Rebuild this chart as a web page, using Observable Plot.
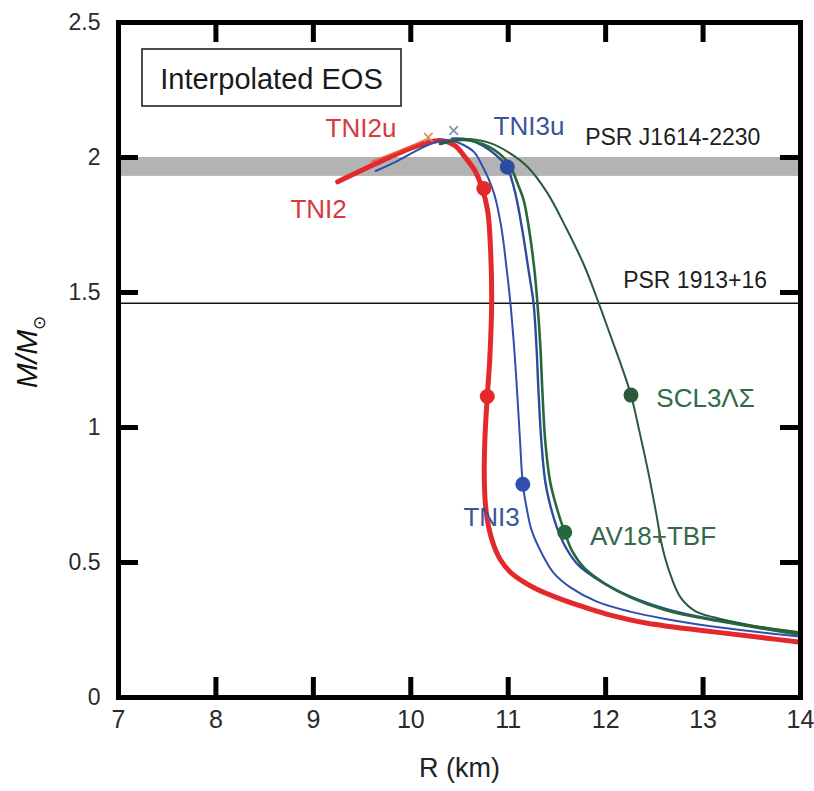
<!DOCTYPE html>
<html>
<head>
<meta charset="utf-8">
<script src="https://cdn.jsdelivr.net/npm/d3@7"></script>
<script src="https://cdn.jsdelivr.net/npm/@observablehq/plot@0.6"></script>
<style>
  html, body { margin: 0; padding: 0; background: #fff; }
  #chart { width: 814px; height: 791px; }
</style>
</head>
<body>
<div id="chart"></div>
<script>
// Neutron-star mass–radius relations, [R (km), M/Msun], each traced from the high-mass end.
const tni2 = [
  [9.25, 1.91], [9.6, 1.97], [9.9, 2.02], [10.1, 2.047], [10.3, 2.063], [10.45, 2.045],
  [10.56, 2.0], [10.66, 1.95], [10.73, 1.89], [10.79, 1.80], [10.82, 1.65], [10.83, 1.46],
  [10.81, 1.25], [10.785, 1.115], [10.76, 0.95], [10.755, 0.80], [10.77, 0.70], [10.80, 0.63],
  [10.85, 0.565], [10.92, 0.51], [11.02, 0.465], [11.15, 0.43], [11.3, 0.40], [11.5, 0.37],
  [11.75, 0.338], [12.0, 0.31], [12.43, 0.275], [13.11, 0.243], [13.6, 0.222], [14.0, 0.205]
];
const tni2u = [[9.6, 1.985], [9.85, 2.02], [10.05, 2.05], [10.18, 2.07]];
const tni3 = [
  [9.64, 1.95], [9.85, 1.985], [10.03, 2.02], [10.2, 2.05], [10.38, 2.065], [10.52, 2.05],
  [10.65, 2.02], [10.74, 1.965], [10.8, 1.92], [10.86, 1.86], [10.93, 1.74], [10.98, 1.6],
  [11.02, 1.47], [11.06, 1.3], [11.09, 1.14], [11.12, 0.96], [11.15, 0.79], [11.19, 0.70],
  [11.24, 0.62], [11.35, 0.53], [11.47, 0.46], [11.65, 0.405], [11.91, 0.355], [12.25, 0.318],
  [12.6, 0.292], [13.2, 0.258], [14.0, 0.225]
];
const tni3u = [
  [10.42, 2.07], [10.6, 2.065], [10.8, 2.03], [10.93, 1.99], [10.99, 1.965], [11.05, 1.90],
  [11.09, 1.84], [11.15, 1.72], [11.21, 1.58], [11.26, 1.46], [11.29, 1.30], [11.31, 1.14],
  [11.34, 0.95], [11.38, 0.80], [11.44, 0.70], [11.51, 0.62], [11.6, 0.55], [11.72, 0.49],
  [11.95, 0.43], [12.25, 0.375], [12.6, 0.33], [12.94, 0.30], [13.5, 0.265], [14.0, 0.235]
];
const av18tbf = [
  [10.3, 2.05], [10.55, 2.065], [10.8, 2.04], [11.0, 1.98], [11.1, 1.90], [11.16, 1.84],
  [11.22, 1.72], [11.27, 1.58], [11.30, 1.46], [11.33, 1.30], [11.35, 1.14], [11.38, 0.95],
  [11.43, 0.80], [11.5, 0.70], [11.58, 0.612], [11.66, 0.54], [11.78, 0.48], [12.0, 0.42],
  [12.26, 0.37], [12.6, 0.325], [12.94, 0.297], [13.5, 0.262], [14.0, 0.232]
];
const scl3LS = [
  [10.3, 2.05], [10.55, 2.068], [10.8, 2.055], [11.0, 2.02], [11.2, 1.965], [11.4, 1.87],
  [11.6, 1.735], [11.78, 1.6], [11.93, 1.46], [12.05, 1.34], [12.17, 1.22], [12.26, 1.12],
  [12.35, 0.98], [12.44, 0.83], [12.52, 0.68], [12.58, 0.56], [12.66, 0.46], [12.77, 0.37],
  [12.92, 0.32], [13.11, 0.297], [13.5, 0.267], [14.0, 0.242]
];

// Filled circles marking selected stars on the curves.
const dotR = [10.75, 10.785, 10.99, 11.15, 11.58, 12.26];
const dotM = [1.885, 1.115, 1.965, 0.79, 0.612, 1.12];
const dotSeries = ["TNI2", "TNI2", "TNI3u", "TNI3", "AV18+TBF", "SCL3ΛΣ"];

// Crosses at the maximum-mass ends of the universal-repulsion curves.
const crossR = [10.18, 10.44];
const crossM = [2.075, 2.10];
const crossSeries = ["TNI2u", "TNI3u"];

// Curve names and where they sit.
const labelText = ["TNI2u", "TNI2", "TNI3u", "TNI3", "AV18+TBF", "SCL3ΛΣ"];
const labelR = [9.125, 8.765, 10.85, 10.54, 11.84, 12.52];
const labelM = [2.107, 1.807, 2.115, 0.667, 0.596, 1.107];

// Observed pulsar masses.
const psrJ1614Band = [1.93, 2.0];
const psrJ1614Label = {text: "PSR J1614-2230", R: 11.79, M: 2.072};
const psr1913Mass = 1.46;
const psr1913Label = {text: "PSR 1913+16", R: 12.18, M: 1.544};

const xDomain = [7, 14];
const yDomain = [0, 2.5];
const xTicks = [7, 8, 9, 10, 11, 12, 13, 14];
const yTicks = [0, 0.5, 1, 1.5, 2, 2.5];

const lineColor = {
  "TNI2": "#e4292d", "TNI2u": "#e8603e", "TNI3": "#2f4fae", "TNI3u": "#2c4b9c",
  "AV18+TBF": "#24683d", "SCL3ΛΣ": "#2b5a3a"
};
const textColor = {
  "TNI2": "#d63a40", "TNI2u": "#d63a40", "TNI3": "#3b5598", "TNI3u": "#3b5598",
  "AV18+TBF": "#33694a", "SCL3ΛΣ": "#2f6a48"
};

const W = 814, H = 791;
const mLeft = 118, mRight = 14, mTop = 22, mBottom = 94;
const innerW = W - mLeft - mRight, innerH = H - mTop - mBottom;
const tickLen = 20;
const innerX = xTicks.slice(1, -1), innerY = yTicks.slice(1, -1);

const dots = dotR.map((R, i) => ({R, M: dotM[i], s: dotSeries[i]}));
const crosses = crossR.map((R, i) => ({R, M: crossM[i], s: crossSeries[i]}));
const labels = labelText.map((t, i) => ({t, R: labelR[i], M: labelM[i]}));
const curve = (data, name, width) =>
  Plot.line(data, {x: d => d[0], y: d => d[1], stroke: lineColor[name], strokeWidth: width,
                   curve: "catmull-rom", strokeLinejoin: "round", strokeLinecap: "round"});

const font = "'Liberation Sans', Arial, sans-serif";
const narrow = "'Liberation Sans Narrow', 'Liberation Sans', Arial, sans-serif";

const chart = Plot.plot({
  width: W, height: H,
  marginLeft: mLeft, marginRight: mRight, marginTop: mTop, marginBottom: mBottom,
  x: {domain: xDomain, label: null},
  y: {domain: yDomain, label: null},
  style: {fontFamily: font, background: "#fff", overflow: "visible"},
  marks: [
    Plot.rect([psrJ1614Band], {x1: xDomain[0], x2: xDomain[1], y1: d => d[0], y2: d => d[1], fill: "#b3b3b3"}),
    Plot.ruleY([psr1913Mass], {stroke: "#111", strokeWidth: 1.5}),
    curve(tni2, "TNI2", 5),
    curve(tni2u, "TNI2u", 1.6),
    curve(tni3, "TNI3", 2),
    curve(tni3u, "TNI3u", 2.4),
    curve(av18tbf, "AV18+TBF", 2.6),
    curve(scl3LS, "SCL3ΛΣ", 2),
    Plot.dot(dots, {x: "R", y: "M", r: 7.5, fill: d => lineColor[d.s], stroke: null}),
    Plot.dot(crosses, {x: "R", y: "M", r: 4, symbol: "times", stroke: d => d.s === "TNI2u" ? "#e08a55" : "#7f8fa8", strokeWidth: 1.6}),
    Plot.text(labels, {x: "R", y: "M", text: "t", textAnchor: "start", fontSize: 26, fill: d => textColor[d.t], fontFamily: font}),
    Plot.text([psrJ1614Label, psr1913Label], {x: "R", y: "M", text: "text", textAnchor: "start", fontSize: 23, fill: "#1e1e1e", fontFamily: font}),
    // frame and inward ticks on all four sides
    Plot.frame({stroke: "#000", strokeWidth: 5}),
    Plot.tickX(innerX, {x: d => d, insetTop: innerH - tickLen, stroke: "#000", strokeWidth: 5}),
    Plot.tickX(innerX, {x: d => d, insetBottom: innerH - tickLen, stroke: "#000", strokeWidth: 5}),
    Plot.tickY(innerY, {y: d => d, insetRight: innerW - tickLen, stroke: "#000", strokeWidth: 5}),
    Plot.tickY(innerY, {y: d => d, insetLeft: innerW - tickLen, stroke: "#000", strokeWidth: 5}),
    Plot.axisX({ticks: xTicks, tickSize: 0, tickPadding: 13, fontSize: 25, fill: "#2a2a2a", fontFamily: narrow, tickFormat: d => String(d)}),
    Plot.axisY({ticks: yTicks, tickSize: 0, tickPadding: 18, fontSize: 23, fill: "#2a2a2a", fontFamily: narrow, tickFormat: d => String(d)}),
    Plot.text(["R (km)"], {frameAnchor: "bottom", dy: 79, fontSize: 27, fill: "#222", fontFamily: font})
  ]
});

document.getElementById("chart").appendChild(chart);

// Y-axis title with the solar-mass subscript, and the boxed panel title.
const svg = d3.select(chart);
const yTitle = svg.append("text")
  .attr("transform", "translate(37,352) rotate(-90)")
  .attr("text-anchor", "middle")
  .attr("font-family", font)
  .attr("font-style", "italic")
  .attr("font-size", 30)
  .attr("fill", "#111");
yTitle.append("tspan").text("M/M");
yTitle.append("tspan").attr("font-size", 17).attr("font-style", "normal").attr("dy", 8).text("⊙");

const box = svg.append("g");
box.append("rect").attr("x", 142).attr("y", 49).attr("width", 259).attr("height", 57)
  .attr("fill", "#fff").attr("stroke", "#222").attr("stroke-width", 1.6);
box.append("text").attr("x", 271.5).attr("y", 89).attr("text-anchor", "middle")
  .attr("font-family", font).attr("font-size", 29).attr("fill", "#1a1a1a")
  .text("Interpolated EOS");
</script>
</body>
</html>
